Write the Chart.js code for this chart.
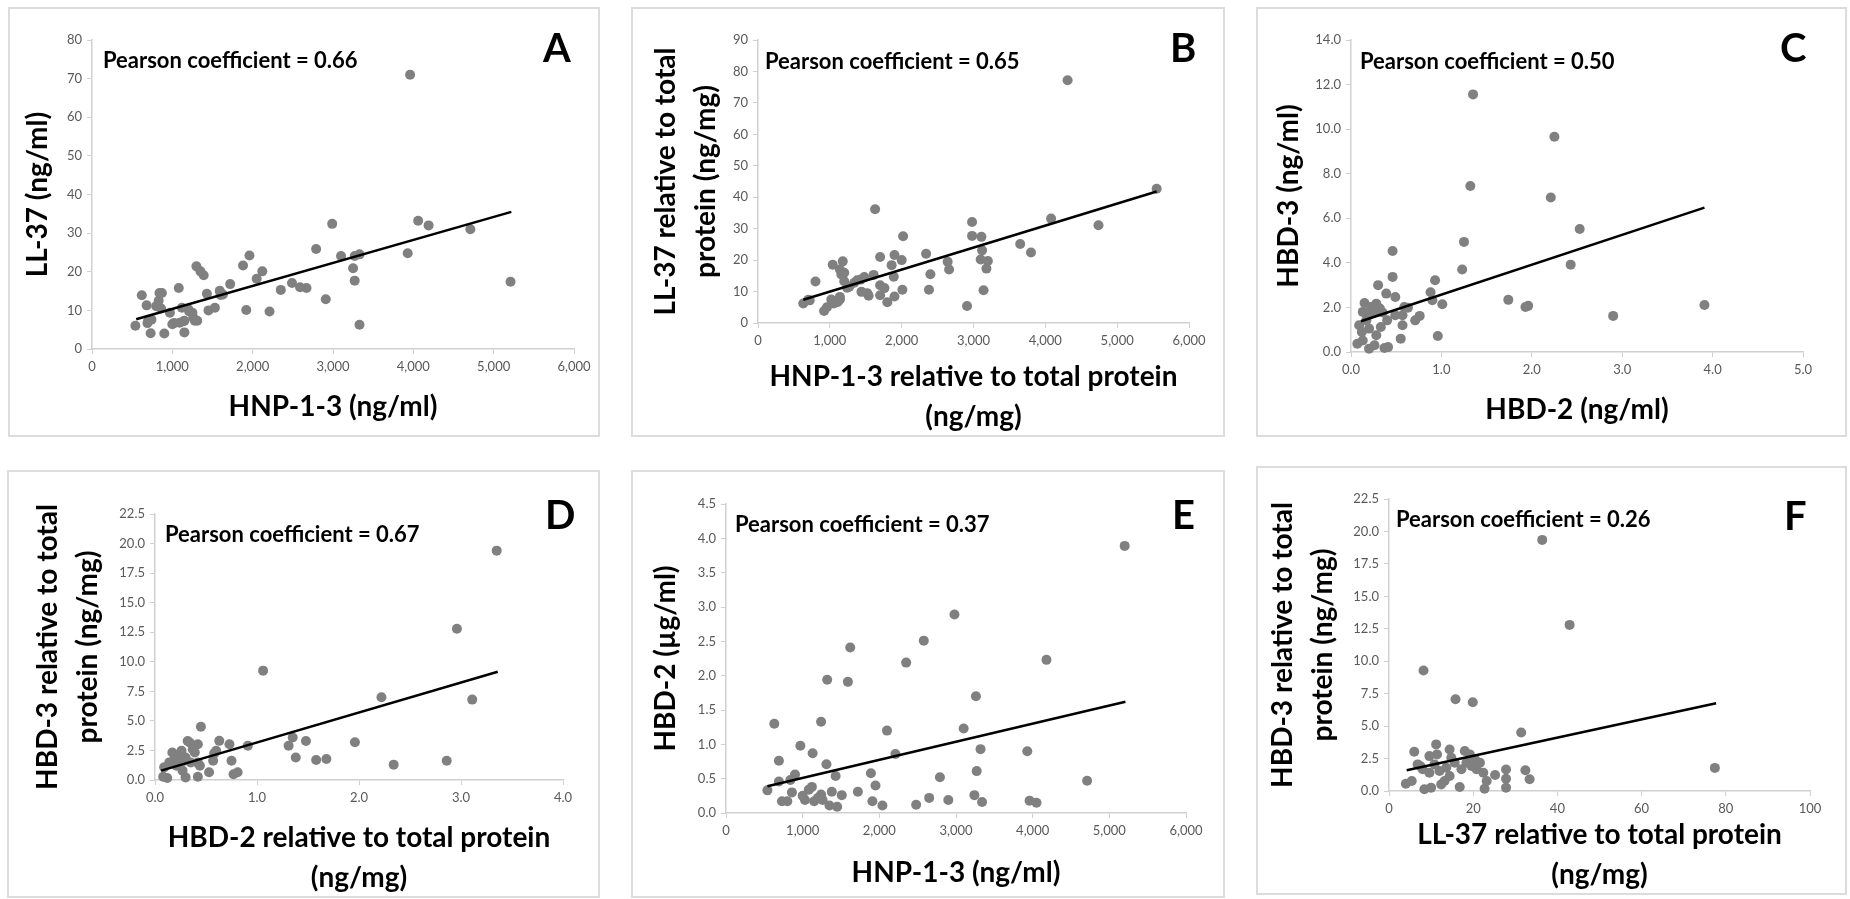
<!DOCTYPE html>
<html>
<head>
<meta charset="utf-8">
<script src="https://cdn.jsdelivr.net/npm/chart.js@4.4.0/dist/chart.umd.min.js"></script>
<style>
  body { margin: 0; background: #fff; width: 1850px; height: 899px; position: relative; overflow: hidden; font-family: Lato, sans-serif; }
  .panel { position: absolute; }
  .panel canvas { position: absolute; left: 0; top: 0; }
  .frame { position: absolute; left: 0; top: 0; right: 0; bottom: 0; border: 2px solid #dcdcdc; pointer-events: none; }
  .note { position: absolute; font-weight: bold; font-size: 22px; white-space: nowrap; transform: translateY(-50%); color: #000; }
  .letter { position: absolute; font-weight: bold; font-size: 40px; line-height: 1; transform: translateY(-50%); color: #000; }
</style>
</head>
<body>
<script>
// ---- values: [x, y] per patient ----
const ptsA = [[540,6.0],[620,13.9],[680,11.3],[690,6.7],[700,7.3],[730,4.1],[740,7.6],[800,11.1],[830,12.5],
  [840,14.5],[860,10.5],[870,14.5],[900,4.0],[970,9.4],[1000,6.4],[1020,6.7],[1080,15.8],[1090,6.8],[1120,10.7],
  [1140,7.2],[1150,4.3],[1150,7.3],[1200,10.3],[1210,9.7],[1250,9.4],[1260,8.1],[1280,7.3],[1310,7.3],[1300,21.4],
  [1350,20.1],[1390,19.1],[1430,14.3],[1450,10.0],[1530,10.7],[1590,15.1],[1600,14.0],[1630,14.1],[1720,16.8],
  [1880,21.6],[1920,10.1],[1960,24.2],[2050,18.2],[2120,20.1],[2210,9.7],[2350,15.3],[2490,17.1],[2590,16.0],
  [2670,15.8],[2790,25.9],[2910,12.9],[2990,32.4],[3100,24.1],[3250,20.9],[3270,17.7],[3270,24.1],[3330,24.5],
  [3330,6.3],[3930,24.8],[3960,71.0],[4060,33.2],[4190,32.0],[4710,31.0],[5210,17.4]];
const fitA = [[550,7.7],[5220,35.5]];

const ptsB = [[630,6.2],[700,7.4],[720,7.2],[800,13.2],[920,3.8],[960,5.0],[1020,7.5],[1050,6.2],[1070,6.4],
  [1110,6.7],[1140,7.5],[1140,8.3],[1040,18.5],[1180,19.6],[1140,17.0],[1160,15.4],[1200,16.0],[1200,13.3],
  [1240,11.2],[1270,11.5],[1340,12.8],[1380,13.6],[1430,13.8],[1440,9.9],[1480,14.6],[1540,8.7],[1520,9.5],
  [1610,15.3],[1630,36.2],[1700,21.0],[1700,12.0],[1700,8.8],[1760,11.1],[1800,6.6],[1860,18.4],[1900,21.6],
  [1890,14.7],[1900,8.4],[2000,20.0],[2020,27.6],[2010,10.6],[2340,22.0],[2400,15.5],[2380,10.6],[2640,19.5],
  [2660,17.0],[2910,5.4],[2980,32.1],[2980,27.7],[3110,27.4],[3120,23.1],[3100,20.2],[3200,19.7],[3180,17.3],
  [3140,10.4],[3650,25.1],[3800,22.4],[4080,33.2],[4310,77.2],[4740,31.1],[5550,42.7]];
const fitB = [[630,7.4],[5550,41.8]];

const ptsC = [[0.07,0.37],[0.09,1.2],[0.12,0.9],[0.13,0.52],[0.13,1.8],[0.15,2.2],[0.17,1.42],[0.18,1.65],
  [0.2,1.05],[0.2,0.15],[0.22,2.02],[0.24,1.9],[0.26,1.8],[0.26,0.3],[0.28,0.75],[0.28,2.17],[0.3,3.0],
  [0.32,1.95],[0.33,1.12],[0.35,1.77],[0.37,0.18],[0.39,2.62],[0.40,1.42],[0.41,0.22],[0.46,3.37],[0.46,4.53],
  [0.49,2.47],[0.49,1.65],[0.55,0.6],[0.57,1.2],[0.57,1.65],[0.59,2.02],[0.63,1.99],[0.71,1.42],[0.76,1.62],
  [0.88,2.68],[0.9,2.32],[0.93,3.22],[0.96,0.72],[1.01,2.14],[1.23,3.70],[1.25,4.94],[1.32,7.45],[1.35,11.56],
  [1.74,2.34],[1.93,2.02],[1.96,2.07],[2.21,6.93],[2.25,9.66],[2.43,3.92],[2.53,5.52],[2.90,1.62],[3.91,2.11]];
const fitC = [[0.11,1.38],[3.91,6.48]];

const ptsD = [[0.08,0.28],[0.09,1.07],[0.12,0.17],[0.14,1.49],[0.17,2.33],[0.19,1.8],[0.21,1.2],[0.23,2.0],
  [0.26,2.47],[0.27,0.79],[0.28,1.6],[0.30,1.9],[0.30,0.22],[0.32,3.3],[0.34,3.17],[0.35,1.49],[0.37,2.6],
  [0.39,2.33],[0.42,3.03],[0.42,0.28],[0.42,1.47],[0.44,1.2],[0.45,4.5],[0.53,0.65],[0.57,1.63],[0.58,2.25],
  [0.60,2.47],[0.63,3.31],[0.73,3.03],[0.75,1.63],[0.77,0.48],[0.81,0.65],[0.91,2.9],[1.06,9.25],[1.31,2.9],
  [1.35,3.6],[1.38,1.9],[1.48,3.3],[1.58,1.69],[1.68,1.78],[1.96,3.2],[2.22,7.0],[2.34,1.3],[2.86,1.63],
  [2.96,12.8],[3.11,6.8],[3.35,19.4]];
const fitD = [[0.06,0.79],[3.36,9.16]];

const ptsE = [[540,0.33],[630,1.30],[690,0.76],[690,0.46],[730,0.17],[800,0.17],[840,0.48],[860,0.30],
  [900,0.56],[970,0.98],[1000,0.25],[1030,0.19],[1080,0.34],[1120,0.38],[1130,0.87],[1150,0.17],[1200,0.22],
  [1240,0.27],[1240,1.33],[1260,0.19],[1310,0.71],[1320,1.94],[1350,0.11],[1380,0.31],[1430,0.54],[1450,0.09],
  [1510,0.26],[1590,1.91],[1620,2.41],[1720,0.31],[1890,0.58],[1910,0.17],[1950,0.40],[2040,0.11],[2100,1.20],
  [2210,0.86],[2350,2.19],[2480,0.12],[2580,2.51],[2650,0.22],[2790,0.52],[2900,0.19],[2980,2.89],[3100,1.23],
  [3240,0.26],[3260,1.70],[3270,0.61],[3320,0.93],[3340,0.16],[3930,0.90],[3960,0.18],[4050,0.15],[4180,2.23],
  [4710,0.47],[5200,3.89]];
const fitE = [[540,0.39],[5210,1.62]];

const ptsF = [[4.0,0.56],[5.4,0.77],[6.0,3.03],[6.8,2.05],[7.5,1.9],[8.0,1.67],[8.2,9.29],[8.4,0.13],[9.6,1.41],
  [9.6,2.69],[10.0,0.26],[10.8,2.05],[11.2,3.59],[11.4,2.82],[12.0,1.54],[12.4,0.51],[13.2,0.77],[13.6,1.79],
  [14.4,3.2],[14.4,1.15],[14.8,2.56],[15.6,2.18],[15.8,7.07],[16.8,0.31],[17.2,1.67],[18.0,3.08],[18.4,2.18],
  [19.2,2.82],[19.6,1.92],[19.9,6.84],[20.4,2.44],[20.8,1.67],[21.6,2.18],[22.4,1.41],[22.7,0.18],[23.2,0.77],
  [25.2,1.23],[27.8,1.65],[27.8,0.95],[27.8,0.26],[31.4,4.51],[32.4,1.6],[33.4,0.9],[36.4,19.35],[42.9,12.8],
  [77.4,1.78]];
const fitF = [[4.2,1.6],[77.7,6.76]];

const pearson = ['0.66', '0.65', '0.50', '0.67', '0.37', '0.26'];
const letters = ['A', 'B', 'C', 'D', 'E', 'F'];
const xTitles = ['HNP-1-3 (ng/ml)', ['HNP-1-3 relative to total protein', '(ng/mg)'], 'HBD-2 (ng/ml)',
  ['HBD-2 relative to total protein', '(ng/mg)'], 'HNP-1-3 (ng/ml)', ['LL-37 relative to total protein', '(ng/mg)']];
const yTitles = ['LL-37 (ng/ml)', ['LL-37 relative to total', 'protein (ng/mg)'], 'HBD-3 (ng/ml)',
  ['HBD-3 relative to total', 'protein (ng/mg)'], 'HBD-2 (\u00b5g/ml)', ['HBD-3 relative to total', 'protein (ng/mg)']];
// axis ranges [min, max, step]
const xRanges = [[0, 6000, 1000], [0, 6000, 1000], [0, 5, 1], [0, 4, 1], [0, 6000, 1000], [0, 100, 20]];
const yRanges = [[0, 80, 10], [0, 90, 10], [0, 14, 2], [0, 22.5, 2.5], [0, 4.5, 0.5], [0, 22.5, 2.5]];
const xDecimals = [-1, -1, 1, 1, -1, 0];
const yDecimals = [0, 0, 1, 1, 1, 1];
const points = [ptsA, ptsB, ptsC, ptsD, ptsE, ptsF];
const fits = [fitA, fitB, fitC, fitD, fitE, fitF];

// ---- layout (page pixels) ----
const frames = [
  {x: 8, y: 7, w: 592, h: 430}, {x: 631, y: 7, w: 594, h: 430}, {x: 1256, y: 7, w: 591, h: 430},
  {x: 7, y: 470, w: 593, h: 428}, {x: 631, y: 470, w: 594, h: 428}, {x: 1256, y: 466, w: 591, h: 429}
];
// plot area inside each frame: left, right, top, bottom
const areas = [
  {l: 84, r: 566, t: 33, b: 342}, {l: 127, r: 558, t: 33, b: 316}, {l: 95, r: 547, t: 33, b: 345},
  {l: 148, r: 556, t: 44, b: 310}, {l: 95, r: 555, t: 34, b: 343}, {l: 133, r: 554, t: 33, b: 325}
];
const yTitlePad = [10, 15, 13, 21, 15, 7];
const xTitlePad = [10, 0, 7, 0, 5, 0];
const notePos = [[103, 59], [765, 60], [1360, 60], [165, 533], [735, 523], [1396, 518]];
const letterPos = [[543, 47], [1170, 47], [1780, 47], [545, 514], [1172, 514], [1784, 515]];

const TICK = '#595959';
const AXIS = '#d0d0d0';
const FONT = 'Lato, "Open Sans", sans-serif';

function fmt(v, dec) {
  if (dec < 0) return Number(v).toLocaleString('en-US');
  return Number(v).toFixed(dec);
}

function makePanel(i) {
  const f = frames[i], a = areas[i];
  const div = document.createElement('div');
  div.className = 'panel';
  div.style.left = f.x + 'px';
  div.style.top = f.y + 'px';
  div.style.width = f.w + 'px';
  div.style.height = f.h + 'px';
  const canvas = document.createElement('canvas');
  canvas.width = f.w;
  canvas.height = f.h;
  div.appendChild(canvas);
  const frame = document.createElement('div');
  frame.className = 'frame';
  div.appendChild(frame);
  document.body.appendChild(div);

  const titleFont = {family: FONT, size: 28, weight: 'bold', lineHeight: 40 / 28};
  const tickFont = {family: FONT, size: 13};

  new Chart(canvas.getContext('2d'), {
    type: 'scatter',
    data: {
      datasets: [{
        type: 'line',
        data: fits[i].map(p => ({x: p[0], y: p[1]})),
        borderColor: '#000',
        borderWidth: 2.5,
        pointRadius: 0,
        fill: false,
        clip: false
      }, {
        data: points[i].map(p => ({x: p[0], y: p[1]})),
        backgroundColor: '#808080',
        borderWidth: 0,
        pointRadius: 5,
        clip: false
      }]
    },
    options: {
      responsive: false,
      animation: false,
      layout: {padding: {left: 0, top: a.t, right: f.w - a.r, bottom: 0}},
      plugins: {legend: {display: false}, tooltip: {enabled: false}},
      scales: {
        x: {
          type: 'linear',
          min: xRanges[i][0], max: xRanges[i][1],
          ticks: {stepSize: xRanges[i][2], color: TICK, font: tickFont, maxRotation: 0, autoSkip: false, padding: 5,
            callback: v => fmt(v, xDecimals[i])},
          grid: {drawOnChartArea: false, color: AXIS, tickLength: 5},
          border: {color: AXIS, width: 1.5},
          title: {display: true, text: xTitles[i], color: '#000', font: titleFont, padding: {top: 0, bottom: xTitlePad[i]}},
          afterFit: s => { s.height = f.h - a.b; }
        },
        y: {
          type: 'linear',
          min: yRanges[i][0], max: yRanges[i][1],
          ticks: {stepSize: yRanges[i][2], color: TICK, font: tickFont, padding: 5,
            callback: v => fmt(v, yDecimals[i])},
          grid: {drawOnChartArea: false, color: AXIS, tickLength: 5},
          border: {color: AXIS, width: 1.5},
          title: {display: true, text: yTitles[i], color: '#000', font: titleFont, padding: {top: yTitlePad[i], bottom: 0}},
          afterFit: s => { s.width = a.l; }
        }
      }
    }
  });

  const note = document.createElement('div');
  note.className = 'note';
  note.style.left = notePos[i][0] + 'px';
  note.style.top = notePos[i][1] + 'px';
  note.textContent = 'Pearson coefficient = ' + pearson[i];
  document.body.appendChild(note);

  const letter = document.createElement('div');
  letter.className = 'letter';
  letter.style.left = letterPos[i][0] + 'px';
  letter.style.top = letterPos[i][1] + 'px';
  letter.textContent = letters[i];
  document.body.appendChild(letter);
}

for (let i = 0; i < 6; i++) makePanel(i);
</script>
</body>
</html>
